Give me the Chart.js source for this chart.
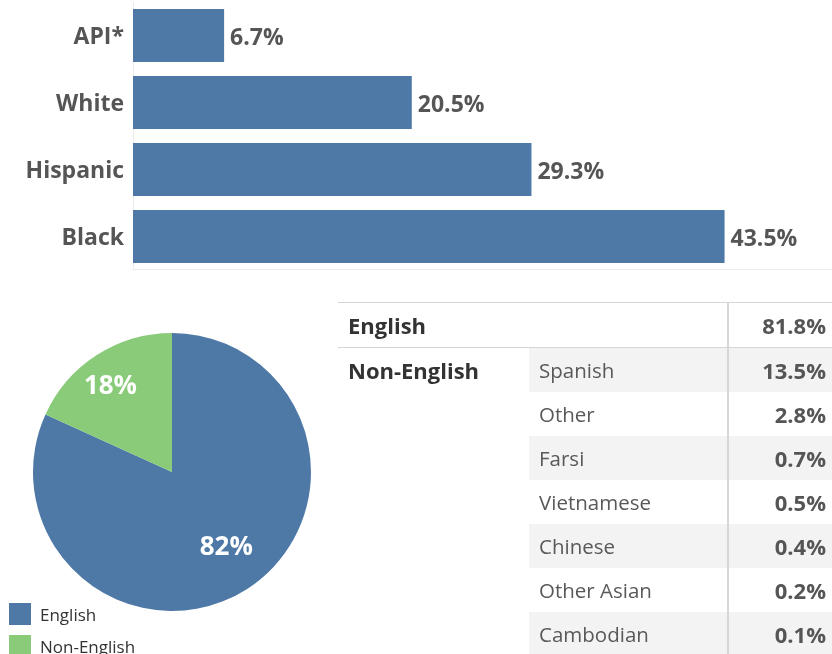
<!DOCTYPE html>
<html>
<head>
<meta charset="utf-8">
<script src="https://cdn.jsdelivr.net/npm/chart.js@4"></script>
<style>
    body { margin: 0; background: #fff; font-family: 'Open Sans', sans-serif; }
    #page { position: relative; width: 832px; height: 654px; overflow: hidden; }
    #barBox { position: absolute; left: 0; top: 0; width: 832px; height: 270px; }
    #pieBox { position: absolute; left: 0; top: 333px; width: 344px; height: 278px; }
    #legend { position: absolute; left: 9px; top: 598px; }
    .leg { display: flex; align-items: center; height: 32px; font-size: 17px; color: #333; }
    .leg span.sw { width: 22px; height: 22px; margin-right: 9px; }
    #tbl { position: absolute; left: 338px; top: 302px; width: 494px; border-collapse: collapse; }
    #tbl td { height: 44px; padding: 0; }
    #tbl tr:first-child td { height: 44px; border-top: 1px solid #d6d6d6; border-bottom: 1px solid #d6d6d6; }
    #tbl td.grp { width: 182px; padding-left: 10px; font-weight: bold; font-size: 22px; color: #333; vertical-align: middle; }
    #tbl td.lang { width: 189px; padding-left: 10px; font-size: 20.5px; color: #595959; }
    #tbl td.val { width: 97px; padding-right: 6px; text-align: right; font-weight: bold; font-size: 22px; color: #555;
        border-left: 2px solid #d6d6d6; }
    #tbl tr.shade td.lang, #tbl tr.shade td.val { background: #f3f3f3; }
</style>
</head>
<body>
<div id="page">
    <div id="barBox"><canvas id="bar"></canvas></div>
    <div id="pieBox"><canvas id="pie"></canvas></div>
    <div id="legend"></div>
    <table id="tbl"></table>
</div>
<script>
// Race / ethnicity share
const raceLabels = ['API*', 'White', 'Hispanic', 'Black'];
const raceValues = [6.7, 20.5, 29.3, 43.5];

// Home language split
const pieLabels = ['English', 'Non-English'];
const pieValues = [81.8, 18.2];
const pieColors = ['#4E79A7', '#8ACB7A'];

// Language breakdown table
const englishValue = 81.8;
const langNames = ['Spanish', 'Other', 'Farsi', 'Vietnamese', 'Chinese', 'Other Asian', 'Cambodian'];
const langValues = [13.5, 2.8, 0.7, 0.5, 0.4, 0.2, 0.1];

const BLUE = '#4E79A7';
const TEXT = '#555555';

/**
 * Draws the value at the end of each horizontal bar
 */
const barValueLabels = {
    id: 'barValueLabels',
    afterDatasetsDraw(chart) {
        const ctx = chart.ctx;
        const meta = chart.getDatasetMeta(0);
        ctx.save();
        ctx.font = 'bold 23px "Open Sans"';
        ctx.fillStyle = TEXT;
        ctx.textAlign = 'left';
        ctx.textBaseline = 'middle';
        meta.data.forEach((bar, i) => {
            ctx.fillText(raceValues[i].toFixed(1) + '%', bar.x + 6, bar.y + 3);
        });
        ctx.restore();
    },
};

/**
 * Draws rounded percentages inside the pie slices
 */
const pieValueLabels = {
    id: 'pieValueLabels',
    afterDatasetsDraw(chart) {
        const ctx = chart.ctx;
        const meta = chart.getDatasetMeta(0);
        ctx.save();
        ctx.font = 'bold 26px "Open Sans"';
        ctx.fillStyle = '#ffffff';
        ctx.textAlign = 'center';
        ctx.textBaseline = 'middle';
        meta.data.forEach((arc, i) => {
            // labels sit slightly before the slice midline
            const mid = (arc.startAngle + arc.endAngle) / 2 - 0.05;
            const r = arc.outerRadius * (i === 0 ? 0.67 : 0.76);
            ctx.fillText(Math.round(pieValues[i]) + '%',
                arc.x + Math.cos(mid) * r, arc.y + Math.sin(mid) * r);
        });
        ctx.restore();
    },
};

new Chart(document.getElementById('bar'), {
    type: 'bar',
    data: {
        labels: raceLabels,
        datasets: [{
            data: raceValues,
            backgroundColor: BLUE,
            borderWidth: 0,
            barPercentage: 0.79,
            categoryPercentage: 1,
        }],
    },
    options: {
        indexAxis: 'y',
        responsive: true,
        maintainAspectRatio: false,
        animation: false,
        layout: {padding: {top: 2}},
        scales: {
            x: {
                min: 0,
                max: 51.4,
                ticks: {display: false},
                grid: {display: false, drawTicks: false},
                border: {display: true, color: '#ececec', width: 2},
                afterFit: (scale) => {
                    scale.height = 0;
                    scale.paddingLeft = 0;
                    scale.paddingRight = 0;
                },
            },
            y: {
                afterFit: (scale) => {
                    scale.width = 133;
                    scale.paddingTop = 0;
                    scale.paddingBottom = 0;
                },
                ticks: {
                    padding: 9,
                    labelOffset: 2,
                    color: TEXT,
                    font: {family: 'Open Sans', size: 23, weight: 'bold'},
                },
                grid: {display: false, drawTicks: false},
                border: {display: true, color: '#ececec', width: 1},
            },
        },
        plugins: {
            legend: {display: false},
            tooltip: {enabled: false},
        },
    },
    plugins: [barValueLabels],
});

new Chart(document.getElementById('pie'), {
    type: 'pie',
    data: {
        labels: pieLabels,
        datasets: [{
            data: pieValues,
            backgroundColor: pieColors,
            borderWidth: 0,
        }],
    },
    options: {
        responsive: true,
        maintainAspectRatio: false,
        animation: false,
        plugins: {
            legend: {display: false},
            tooltip: {enabled: false},
        },
    },
    plugins: [pieValueLabels],
});

// Legend for the pie
const legend = document.getElementById('legend');
pieLabels.forEach((name, i) => {
    const row = document.createElement('div');
    row.className = 'leg';
    row.innerHTML = '<span class="sw" style="background:' + pieColors[i] + '"></span>' + name;
    legend.appendChild(row);
});

// Language table
const tbl = document.getElementById('tbl');
let html = '<tr><td class="grp" colspan="2">English</td><td class="val">' +
    englishValue.toFixed(1) + '%</td></tr>';
langNames.forEach((name, i) => {
    html += '<tr class="' + (i % 2 === 0 ? 'shade' : '') + '">';
    if (i === 0) html += '<td class="grp" rowspan="' + langNames.length + '" style="vertical-align:top;padding-top:7px">Non-English</td>';
    html += '<td class="lang">' + name + '</td><td class="val">' + langValues[i].toFixed(1) + '%</td></tr>';
});
tbl.innerHTML = html;
</script>
</body>
</html>
